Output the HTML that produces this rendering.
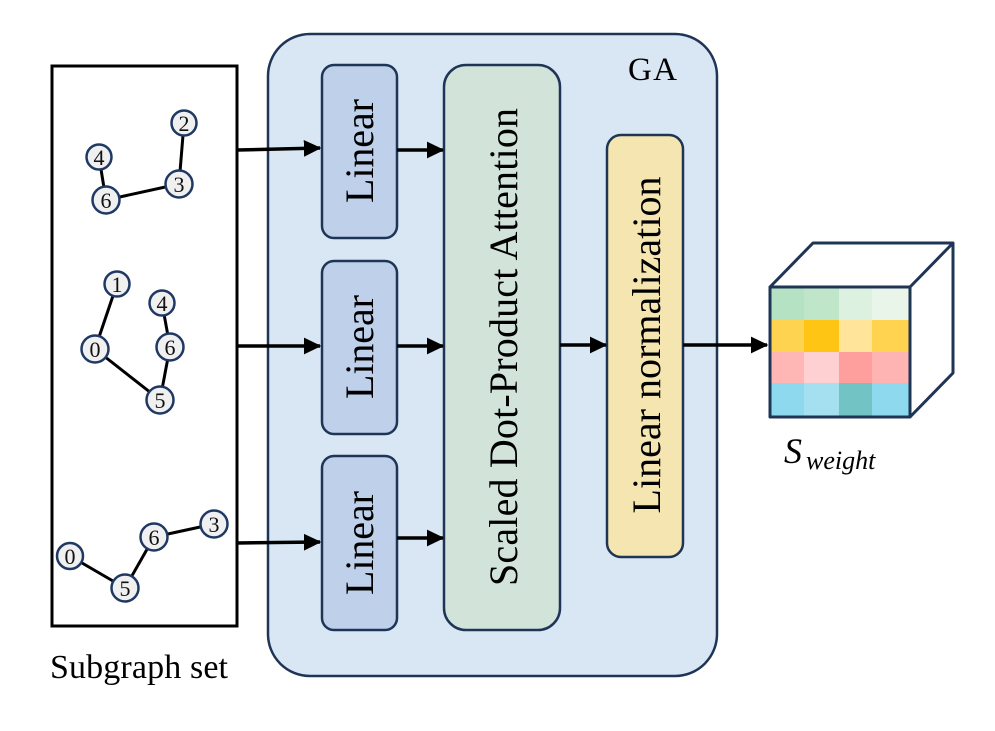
<!DOCTYPE html>
<html><head><meta charset="utf-8"><style>html,body{margin:0;padding:0;background:#fff}svg{display:block}</style></head>
<body>
<svg width="995" height="731" viewBox="0 0 995 731" xmlns="http://www.w3.org/2000/svg" font-family="'Liberation Serif', serif">
<defs>
<marker id="ah" markerWidth="6" markerHeight="6" refX="4.6" refY="2.6" orient="auto" markerUnits="strokeWidth">
<path d="M0,0.2 L5,2.6 L0,5 Z" fill="#000"/>
</marker>
</defs>
<rect x="52" y="66" width="185" height="560" fill="#fff" stroke="#000" stroke-width="3"/>
<g stroke="#000" stroke-width="3">
<line x1="99" y1="157" x2="106" y2="200"/>
<line x1="106" y1="200" x2="179" y2="184"/>
<line x1="179" y1="184" x2="184" y2="123"/>
<line x1="117" y1="284" x2="95" y2="349"/>
<line x1="95" y1="349" x2="160" y2="400"/>
<line x1="160" y1="400" x2="170" y2="347"/>
<line x1="170" y1="347" x2="162" y2="303"/>
<line x1="70" y1="556" x2="125" y2="588"/>
<line x1="125" y1="588" x2="154" y2="537"/>
<line x1="154" y1="537" x2="214" y2="524"/>
</g>
<g fill="#f0f0f0" stroke="#1f3864" stroke-width="2.5">
<circle cx="99" cy="157" r="12.5"/><circle cx="184" cy="123" r="12.5"/><circle cx="179" cy="184" r="13.5"/><circle cx="106" cy="200" r="13.5"/>
<circle cx="117" cy="284" r="12.5"/><circle cx="162" cy="303" r="12.5"/><circle cx="95" cy="349" r="13.5"/><circle cx="170" cy="347" r="13.5"/><circle cx="160" cy="400" r="13.5"/>
<circle cx="70" cy="556" r="13"/><circle cx="154" cy="537" r="13.5"/><circle cx="214" cy="524" r="13.5"/><circle cx="125" cy="588" r="13.5"/>
</g>
<g font-size="22" text-anchor="middle" fill="#111">
<text x="99" y="165">4</text><text x="184" y="131">2</text><text x="179" y="192">3</text><text x="106" y="208">6</text>
<text x="117" y="292">1</text><text x="162" y="311">4</text><text x="95" y="357">0</text><text x="170" y="355">6</text><text x="160" y="408">5</text>
<text x="70" y="564">0</text><text x="154" y="545">6</text><text x="214" y="532">3</text><text x="125" y="596">5</text>
</g>
<text x="50" y="678" font-size="34" fill="#000" textLength="178">Subgraph set</text>
<rect x="268" y="34" width="449" height="642" rx="42" fill="#d9e7f4" stroke="#1f3556" stroke-width="2.5"/>
<text x="628" y="80" font-size="33" fill="#000" textLength="49">GA</text>
<g fill="#bed0ea" stroke="#1f3556" stroke-width="2.5">
<rect x="322" y="65" width="75" height="173" rx="12"/>
<rect x="322" y="261" width="75" height="173" rx="12"/>
<rect x="322" y="456" width="75" height="174" rx="12"/>
</g>
<rect x="444" y="65" width="116" height="565" rx="22" fill="#d2e4da" stroke="#1f3556" stroke-width="2.5"/>
<rect x="607" y="135" width="76" height="422" rx="14" fill="#f5e6b1" stroke="#1f3556" stroke-width="2.5"/>
<g font-size="40" fill="#000" text-anchor="middle">
<text transform="translate(373,151) rotate(-90)" textLength="104">Linear</text>
<text transform="translate(373,347) rotate(-90)" textLength="104">Linear</text>
<text transform="translate(373,543) rotate(-90)" textLength="104">Linear</text>
<text transform="translate(517,347) rotate(-90)" textLength="478">Scaled Dot-Product Attention</text>
<text transform="translate(660,345) rotate(-90)" textLength="337">Linear normalization</text>
</g>
<g stroke="#000" stroke-width="3.5" marker-end="url(#ah)">
<line x1="237" y1="150" x2="320" y2="148"/>
<line x1="237" y1="346" x2="320" y2="346"/>
<line x1="237" y1="543" x2="320" y2="542"/>
<line x1="397" y1="150" x2="443" y2="150"/>
<line x1="397" y1="346" x2="443" y2="346"/>
<line x1="397" y1="538" x2="443" y2="538"/>
<line x1="560" y1="345" x2="606" y2="345"/>
<line x1="683" y1="345" x2="767" y2="345"/>
</g>
<g stroke="none">
<rect x="770" y="287" width="34" height="33" fill="#b5e2c3"/><rect x="804" y="287" width="35" height="33" fill="#c0e6c9"/><rect x="839" y="287" width="33" height="33" fill="#dcf1e0"/><rect x="872" y="287" width="38" height="33" fill="#e9f5e9"/>
<rect x="770" y="320" width="34" height="32" fill="#fed34f"/><rect x="804" y="320" width="35" height="32" fill="#ffc515"/><rect x="839" y="320" width="33" height="32" fill="#ffe49a"/><rect x="872" y="320" width="38" height="32" fill="#ffd34f"/>
<rect x="770" y="352" width="34" height="31" fill="#ffb7b6"/><rect x="804" y="352" width="35" height="31" fill="#ffd0d1"/><rect x="839" y="352" width="33" height="31" fill="#fe9f9e"/><rect x="872" y="352" width="38" height="31" fill="#ffb4b4"/>
<rect x="770" y="383" width="34" height="34" fill="#8fd9ee"/><rect x="804" y="383" width="35" height="34" fill="#a4e0f0"/><rect x="839" y="383" width="33" height="34" fill="#72c3c4"/><rect x="872" y="383" width="38" height="34" fill="#8fd9ee"/>
</g>
<g fill="none" stroke="#1f3556" stroke-width="3" stroke-linejoin="round">
<rect x="770" y="287" width="140" height="130"/>
<path d="M770,287 L813,243 L953,243 L910,287 M953,243 L953,373 L910,417"/>
</g>
<text x="784" y="463" font-size="36" font-style="italic" fill="#000">S</text>
<text x="806" y="469" font-size="26" font-style="italic" fill="#000">weight</text>
</svg>
</body></html>
